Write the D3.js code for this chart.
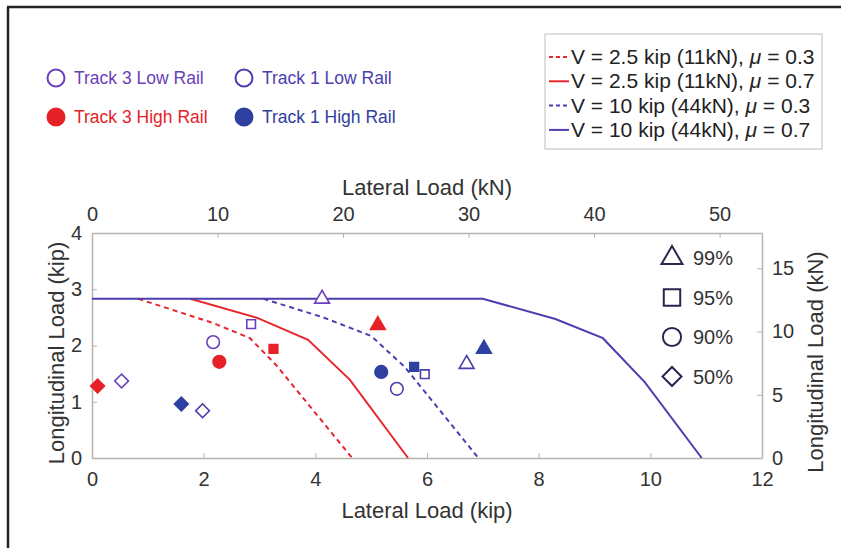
<!DOCTYPE html>
<html>
<head>
<meta charset="utf-8">
<script src="https://cdn.jsdelivr.net/npm/d3@7"></script>
<style>
  body { margin: 0; background: #fff; }
  svg { font-family: "Liberation Sans", Arial, sans-serif; }
</style>
</head>
<body>
<script>
// Capacity envelopes (lateral kip, longitudinal kip)
const curveNames = ["V = 2.5 kip (11kN), ", "V = 2.5 kip (11kN), ", "V = 10 kip (44kN), ", "V = 10 kip (44kN), "];
const curveMu = ["0.3", "0.7", "0.3", "0.7"];
const curveColors = ["#e8262d", "#e8262d", "#4b3fb0", "#4b3fb0"];
const curveDashed = [true, false, true, false];
const curveX = [
    [0.83, 2.17, 2.83, 3.3, 4.66],
    [1.76, 2.96, 3.87, 4.62, 5.66],
    [3.07, 4.14, 5.0, 5.6, 6.92],
    [0, 7.0, 8.3, 9.15, 9.9, 10.92]
];
const curveY = [
    [2.83, 2.4, 2.13, 1.65, 0],
    [2.83, 2.49, 2.1, 1.39, 0],
    [2.83, 2.5, 2.17, 1.62, 0],
    [2.83, 2.83, 2.47, 2.13, 1.35, 0]
];

// Measured percentiles: order 99%, 95%, 90%, 50%
const percentiles = ["99%", "95%", "90%", "50%"];
const seriesNames = ["Track 3 Low Rail", "Track 1 Low Rail", "Track 3 High Rail", "Track 1 High Rail"];
const seriesColors = ["#6a40b8", "#4a3fb0", "#e52228", "#2e40a0"];
const seriesFilled = [false, false, true, true];
const track3LowX = [4.12, 2.85, 2.17, 0.53];
const track3LowY = [2.83, 2.38, 2.06, 1.37];
const track1LowX = [6.71, 5.96, 5.46, 1.98];
const track1LowY = [1.67, 1.49, 1.23, 0.84];
const track3HighX = [5.12, 3.25, 2.28, 0.1];
const track3HighY = [2.36, 1.94, 1.71, 1.28];
const track1HighX = [7.02, 5.77, 5.18, 1.6];
const track1HighY = [1.94, 1.62, 1.53, 0.96];
const seriesX = [track3LowX, track1LowX, track3HighX, track1HighX];
const seriesY = [track3LowY, track1LowY, track3HighY, track1HighY];

const kipTicksX = [0, 2, 4, 6, 8, 10, 12];
const kipTicksY = [0, 1, 2, 3, 4];
const kNTicksX = [0, 10, 20, 30, 40, 50];
const kNTicksY = [0, 5, 10, 15];
const KN_PER_KIP = 4.448;

const svg = d3.select("body").append("svg")
    .attr("width", 841)
    .attr("height", 548);

// outer frame (left and top edges of the page border)
svg.append("line").attr("x1", 8).attr("y1", 7).attr("x2", 8).attr("y2", 548)
    .attr("stroke", "#222").attr("stroke-width", 2.5);
svg.append("line").attr("x1", 7).attr("y1", 7).attr("x2", 841).attr("y2", 7)
    .attr("stroke", "#222").attr("stroke-width", 2.5);

const plotLeft = 92, plotRight = 762, plotTop = 233, plotBottom = 458;

const x = d3.scaleLinear().domain([0, 12]).range([plotLeft, plotRight]);
const y = d3.scaleLinear().domain([0, 4]).range([plotBottom, plotTop]);
const xKN = d3.scaleLinear().domain([0, 12 * KN_PER_KIP]).range([plotLeft, plotRight]);
const yKN = d3.scaleLinear().domain([0, 4 * KN_PER_KIP]).range([plotBottom, plotTop]);

const axisColor = "#b9b2ae";
const labelColor = "#333";
const fmt = d3.format("d");

function styleAxis(g) {
    g.select(".domain").attr("stroke", axisColor).attr("stroke-width", 1.5);
    g.selectAll(".tick line").attr("stroke", axisColor);
    g.selectAll(".tick text").attr("fill", labelColor).style("font-size", "20px");
}

svg.append("g")
    .attr("transform", "translate(0," + plotBottom + ")")
    .call(d3.axisBottom(x).tickValues(kipTicksX).tickFormat(fmt).tickSizeInner(-5).tickSizeOuter(0).tickPadding(14))
    .call(styleAxis);

svg.append("g")
    .attr("transform", "translate(0," + plotTop + ")")
    .call(d3.axisTop(xKN).tickValues(kNTicksX).tickFormat(fmt).tickSizeInner(-5).tickSizeOuter(0).tickPadding(12))
    .call(styleAxis);

svg.append("g")
    .attr("transform", "translate(" + plotLeft + ",0)")
    .call(d3.axisLeft(y).tickValues(kipTicksY).tickFormat(fmt).tickSizeInner(-5).tickSizeOuter(0).tickPadding(10))
    .call(styleAxis);

svg.append("g")
    .attr("transform", "translate(" + plotRight + ",0)")
    .call(d3.axisRight(yKN).tickValues(kNTicksY).tickFormat(fmt).tickSizeInner(-5).tickSizeOuter(0).tickPadding(10))
    .call(styleAxis);

// axis titles
svg.append("text").attr("x", 427).attr("y", 195).attr("text-anchor", "middle")
    .style("font-size", "22px").attr("fill", labelColor).text("Lateral Load (kN)");
svg.append("text").attr("x", 427).attr("y", 518).attr("text-anchor", "middle")
    .style("font-size", "22px").attr("fill", labelColor).text("Lateral Load (kip)");
svg.append("text").attr("transform", "translate(64,353) rotate(-90)").attr("text-anchor", "middle")
    .style("font-size", "22px").attr("fill", labelColor).text("Longitudinal Load (kip)");
svg.append("text").attr("transform", "translate(823,362) rotate(-90)").attr("text-anchor", "middle")
    .style("font-size", "22px").attr("fill", labelColor).text("Longitudinal Load (kN)");

// envelopes
const line = d3.line().x(d => x(d[0])).y(d => y(d[1]));
curveX.forEach((xs, i) => {
    const pts = xs.map((v, j) => [v, curveY[i][j]]);
    svg.append("path")
        .datum(pts)
        .attr("fill", "none")
        .attr("stroke", curveColors[i])
        .attr("stroke-width", 2)
        .attr("stroke-dasharray", curveDashed[i] ? "5,4" : null)
        .attr("d", line);
});

// markers (diamond = square turned 45 degrees)
const symbolTypes = [d3.symbolTriangle, d3.symbolSquare, d3.symbolCircle, d3.symbolSquare];
const symbolRotate = [0, 0, 0, 45];
const dataSizes = [95, 75, 125, 95];
seriesX.forEach((xs, i) => {
    xs.forEach((v, j) => {
        svg.append("path")
            .attr("d", d3.symbol().type(symbolTypes[j]).size(dataSizes[j])())
            .attr("transform", "translate(" + x(v) + "," + y(seriesY[i][j]) + ") rotate(" + symbolRotate[j] + ")")
            .attr("fill", seriesFilled[i] ? seriesColors[i] : "#fff")
            .attr("stroke", seriesColors[i])
            .attr("stroke-width", 1.6);
    });
});

// percentile shape legend
const legendSizes = [190, 270, 260, 180];
percentiles.forEach((p, j) => {
    const cy = 258 + j * 39.5;
    svg.append("path")
        .attr("d", d3.symbol().type(symbolTypes[j]).size(legendSizes[j])())
        .attr("transform", "translate(672," + cy + ") rotate(" + symbolRotate[j] + ")")
        .attr("fill", "none")
        .attr("stroke", "#2a2550")
        .attr("stroke-width", 2);
    svg.append("text").attr("x", 693).attr("y", cy + 7)
        .style("font-size", "20px").attr("fill", labelColor).text(p);
});

// series legend (top left)
const legPos = [[56, 78], [244, 78], [56, 117], [244, 117]];
seriesNames.forEach((name, i) => {
    svg.append("circle")
        .attr("cx", legPos[i][0]).attr("cy", legPos[i][1]).attr("r", 8.5)
        .attr("fill", seriesFilled[i] ? seriesColors[i] : "#fff")
        .attr("stroke", seriesColors[i]).attr("stroke-width", 2);
    svg.append("text").attr("x", legPos[i][0] + 18).attr("y", legPos[i][1] + 6)
        .style("font-size", "17.5px").attr("fill", seriesColors[i]).text(name);
});

// envelope legend box
svg.append("rect").attr("x", 545).attr("y", 34).attr("width", 277).attr("height", 115)
    .attr("fill", "#fff").attr("stroke", "#c8c8c8").attr("stroke-width", 1.2);
curveNames.forEach((name, i) => {
    const cy = 57 + i * 24.3;
    svg.append("line").attr("x1", 549).attr("x2", 569).attr("y1", cy).attr("y2", cy)
        .attr("stroke", curveColors[i]).attr("stroke-width", 2)
        .attr("stroke-dasharray", curveDashed[i] ? "4,3" : null);
    const t = svg.append("text").attr("x", 571).attr("y", cy + 7)
        .style("font-size", "21px").attr("fill", "#222");
    t.append("tspan").text(name);
    t.append("tspan").style("font-style", "italic").text("\u03BC");
    t.append("tspan").text(" = " + curveMu[i]);
});
</script>
</body>
</html>
